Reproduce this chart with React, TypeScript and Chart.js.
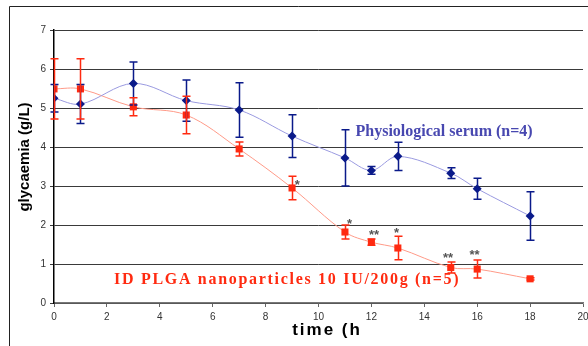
import React, { useEffect, useRef } from "react";
import { Chart, registerables } from "chart.js";

Chart.register(...registerables);

// ---- data ----
const times = [0, 1, 3, 5, 7, 9, 11, 12, 13, 15, 16, 18];
const serumMean = [5.25, 5.1, 5.63, 5.19, 4.95, 4.28, 3.72, 3.4, 3.76, 3.33, 2.93, 2.23];
const serumErr = [0.35, 0.5, 0.55, 0.53, 0.7, 0.55, 0.72, 0.1, 0.36, 0.14, 0.27, 0.62];
const plgaMean = [5.49, 5.49, 5.03, 4.82, 3.95, 2.95, 1.82, 1.56, 1.41, 0.91, 0.87, 0.62];
const plgaErr = [0.77, 0.77, 0.23, 0.48, 0.18, 0.3, 0.18, 0.08, 0.3, 0.14, 0.23, 0.03];
const xTickValues = [0, 2, 4, 6, 8, 10, 12, 14, 16, 18, 20];
const yTickValues = [0, 1, 2, 3, 4, 5, 6, 7];
const serumLabel = "Physiological serum (n=4)";
const plgaLabel = "ID PLGA nanoparticles 10 IU/200g (n=5)";
const xTitle = "time (h";
const yTitle = "glycaemia (g/L)";
const starText = ["*", "*", "**", "*", "**", "**"];
const starX = [9.2, 11.17, 12.1, 12.95, 14.9, 15.9];
const starY = [3.08, 2.08, 1.82, 1.85, 1.23, 1.3];

const SERUM_LINE = "#9a9ae0";
const SERUM_MARK = "#0a1a8a";
const PLGA_LINE = "#ff9a88";
const PLGA_MARK = "#ff2a10";

const extras = {
  id: "extras",
  beforeDraw(chart: any) {
    const ctx = chart.ctx;
    ctx.save();
    ctx.strokeStyle = "#222";
    ctx.lineWidth = 1;
    ctx.beginPath();
    ctx.moveTo(9.5, 346);
    ctx.lineTo(9.5, 6.5);
    ctx.lineTo(588, 6.5);
    ctx.stroke();
    ctx.restore();
  },
  afterDatasetsDraw(chart: any) {
    const ctx = chart.ctx;
    const xs = chart.scales.x;
    const ys = chart.scales.y;
    const drawErr = (means: number[], errs: number[], color: string) => {
      ctx.save();
      ctx.strokeStyle = color;
      ctx.lineWidth = 1.5;
      for (let i = 0; i < times.length; i++) {
        const px = Math.round(xs.getPixelForValue(times[i])) + 0.5;
        const top = ys.getPixelForValue(means[i] + errs[i]);
        const bot = ys.getPixelForValue(means[i] - errs[i]);
        ctx.beginPath();
        ctx.moveTo(px, top);
        ctx.lineTo(px, bot);
        ctx.moveTo(px - 4, top);
        ctx.lineTo(px + 4, top);
        ctx.moveTo(px - 4, bot);
        ctx.lineTo(px + 4, bot);
        ctx.stroke();
      }
      ctx.restore();
    };
    drawErr(serumMean, serumErr, SERUM_MARK);
    drawErr(plgaMean, plgaErr, PLGA_MARK);
  },
  afterDraw(chart: any) {
    const ctx = chart.ctx;
    const xs = chart.scales.x;
    const ys = chart.scales.y;
    ctx.save();
    // stars
    ctx.fillStyle = "#555";
    ctx.font = "bold 13px 'Liberation Sans', Arial, sans-serif";
    ctx.textAlign = "center";
    ctx.textBaseline = "middle";
    for (let i = 0; i < starText.length; i++) {
      ctx.fillText(starText[i], xs.getPixelForValue(starX[i]), ys.getPixelForValue(starY[i]) + 3);
    }
    // series labels
    ctx.font = "bold 16px 'Liberation Serif', 'Times New Roman', serif";
    ctx.fillStyle = "#4848b0";
    ctx.textAlign = "left";
    ctx.fillText(serumLabel, xs.getPixelForValue(11.4), ys.getPixelForValue(4.4));
    ctx.font = "bold 16px 'Liberation Serif', 'Times New Roman', serif";
    (ctx as any).letterSpacing = "1.7px";
    ctx.fillStyle = "#ff2a10";
    ctx.fillText(plgaLabel, xs.getPixelForValue(2.27), ys.getPixelForValue(0.6));
    // axis titles
    ctx.fillStyle = "#000";
    ctx.font = "bold 17px 'Liberation Sans', Arial, sans-serif";
    (ctx as any).letterSpacing = "2px";
    ctx.textAlign = "center";
    ctx.fillText(xTitle, 327, 330);
    (ctx as any).letterSpacing = "0px";
    ctx.font = "bold 15px 'Liberation Sans', Arial, sans-serif";
    ctx.translate(25, 157);
    ctx.rotate(-Math.PI / 2);
    ctx.fillText(yTitle, 0, 0);
    ctx.restore();
  },
};

export default function App() {
  const ref = useRef<HTMLCanvasElement>(null);
  useEffect(() => {
    if (!ref.current) return;
    const chart = new Chart(ref.current, {
      type: "line",
      data: {
        datasets: [
          {
            label: serumLabel,
            data: times.map((t, i) => ({ x: t, y: serumMean[i] })),
            borderColor: SERUM_LINE,
            borderWidth: 1,
            backgroundColor: SERUM_MARK,
            pointBackgroundColor: SERUM_MARK,
            pointBorderColor: SERUM_MARK,
            pointStyle: "rectRot",
            pointRadius: 4.5,
            pointBorderWidth: 0,
            tension: 0.35,
          },
          {
            label: plgaLabel,
            data: times.map((t, i) => ({ x: t, y: plgaMean[i] })),
            borderColor: PLGA_LINE,
            borderWidth: 1,
            backgroundColor: PLGA_MARK,
            pointBackgroundColor: PLGA_MARK,
            pointBorderColor: PLGA_MARK,
            pointStyle: "rect",
            pointRadius: 5,
            pointBorderWidth: 0,
            tension: 0.35,
          },
        ],
      },
      options: {
        animation: false,
        responsive: false,
        layout: { padding: { left: 0, right: 4, top: 30, bottom: 0 } },
        plugins: { legend: { display: false }, tooltip: { enabled: false } },
        scales: {
          x: {
            type: "linear",
            min: 0,
            max: 20,
            afterBuildTicks: (s: any) => {
              s.ticks = xTickValues.map((v) => ({ value: v }));
            },
            afterFit: (s: any) => {
              s.height = 43;
              s.paddingRight = 0;
              s.paddingLeft = 0;
            },
            grid: { drawOnChartArea: false, drawTicks: true, tickLength: 4, color: "#666" },
            border: { color: "#777", width: 1.5 },
            ticks: {
              padding: 4,
              color: "#333",
              font: { family: "'Liberation Sans', Arial, sans-serif", size: 10 },
              maxRotation: 0,
            },
          },
          y: {
            type: "linear",
            min: 0,
            max: 7,
            afterBuildTicks: (s: any) => {
              s.ticks = yTickValues.map((v) => ({ value: v }));
            },
            afterFit: (s: any) => {
              s.width = 54;
              s.paddingTop = 0;
              s.paddingBottom = 0;
            },
            grid: { color: "#3a3a3a", lineWidth: 1, tickLength: 4, drawTicks: true },
            border: { color: "#000", width: 1.5 },
            ticks: {
              padding: 4,
              color: "#333",
              font: { family: "'Liberation Sans', Arial, sans-serif", size: 10 },
            },
          },
        },
      },
      plugins: [extras],
    });
    return () => chart.destroy();
  }, []);
  return (
    <div style={{ position: "fixed", left: 0, top: 0, width: 588, height: 346, background: "#fff" }}>
      <canvas ref={ref} width={588} height={346} />
    </div>
  );
}
